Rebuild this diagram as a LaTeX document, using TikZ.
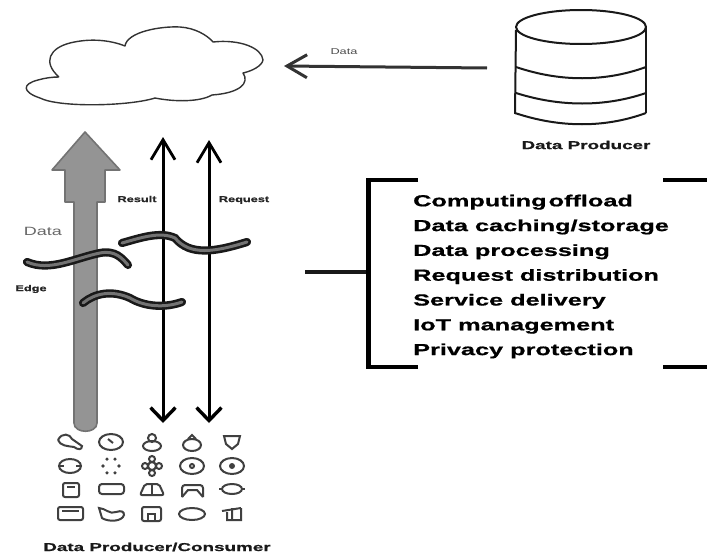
\documentclass[tikz,border=0pt]{standalone}
\usepackage{fontspec}
\setmainfont{Liberation Sans}
\newfontfamily\widea[FakeStretch=1.5,FakeBold=0.6]{Liberation Sans Bold}
\newfontfamily\wideb[FakeStretch=1.64,FakeBold=0.8]{Liberation Sans Bold}
\newfontfamily\widel[FakeStretch=1.58,FakeBold=0.8]{Liberation Sans Bold}
\newfontfamily\widec[FakeStretch=1.5]{Liberation Sans}
\usetikzlibrary{arrows.meta}
\tikzset{
  lbl/.style={font=\widea\fontsize{8.5}{10}\selectfont,text=black!85,inner sep=0pt},
  lblbig/.style={font=\wideb\fontsize{11.5}{12}\selectfont,text=black!90,inner sep=0pt},
  duplex/.style={line width=3pt,black,{Straight Barb[length=13pt,width=25pt,line width=3.4pt]}-{Straight Barb[length=20pt,width=24pt,line width=2.8pt]}},
  flow/.style={line width=3pt,black!80,-{Straight Barb[length=20pt,width=23pt,line width=3pt]}},
  wave/.style={line width=2.6pt,black!90,double=black!55,double distance=3pt,line cap=round},
  ico/.style={line width=2pt,black!75},
  cloudline/.style={line width=1.4pt,black!80,line join=round},
  dbline/.style={line width=2pt,black!90,line join=round}
}
\begin{document}
\begin{tikzpicture}[x=1pt,y=-1pt]
\useasboundingbox (0,0) rectangle (707,557);
% cloud
\draw[cloudline] (59,77) .. controls (42,62) and (50,48) .. (70,43)
 .. controls (90,38) and (110,40) .. (125,46)
 .. controls (127,32) and (160,26) .. (180,27)
 .. controls (195,28) and (207,35) .. (213,42)
 .. controls (240,39) and (262,48) .. (263,60)
 .. controls (262,66) and (252,71) .. (243,73)
 .. controls (250,83) and (240,93) .. (212,95)
 .. controls (200,102) and (175,102) .. (155,98)
 .. controls (130,106) and (60,108) .. (40,98)
 .. controls (22,92) and (22,84) .. (38,80)
 .. controls (45,78) and (52,77) .. (59,77);
% database
\draw[dbline] (581,27) ellipse [x radius=65,y radius=17];
\draw[dbline] (516,30) -- (515,114);
\draw[dbline] (646,28) -- (646,113);
\draw[dbline] (516,67) .. controls (560,82) and (605,82) .. (646,67);
\draw[dbline] (516,93) .. controls (560,107) and (605,107) .. (646,93);
\draw[dbline] (515,113) .. controls (560,128) and (605,128) .. (646,113);
\node[lblbig] (prod) at (586,145) {Data Producer};
% data arrow
\coordinate (dbport) at (487,68);
\coordinate (cloudport) at (284,66);
\draw[flow] (dbport) -- (cloudport);
\node[inner sep=0pt,font=\widec\fontsize{8.5}{10}\selectfont,text=black!70] (dlabel) at (344,52) {Data};
% big gray arrow
\draw[line width=1.6pt,black!55,fill=black!42,line join=round]
 (85,132) -- (120,170) -- (105,170) -- (105,202) -- (97,202) -- (97,423)
 .. controls (97,434) and (74,434) .. (74,423) -- (74,202) -- (65,202) -- (65,170) -- (52,170) -- cycle;
% duplex arrows
\coordinate (ra) at (163,137);\coordinate (rb) at (163,423);
\coordinate (qa) at (209,140);\coordinate (qb) at (209,423);
\draw[duplex] (rb) -- (ra);
\draw[duplex] (qb) -- (qa);
% edge waves
\draw[wave] (27,262) .. controls (50,272) and (75,258) .. (100,253) .. controls (115,250) and (122,258) .. (128,265);
\draw[wave] (122,243) .. controls (140,238) and (160,231) .. (175,238) .. controls (190,256) and (215,252) .. (247,242);
\draw[wave] (83,303) .. controls (95,293) and (112,290) .. (130,298) .. controls (145,307) and (165,308) .. (182,302);
% labels
\node[inner sep=0pt,font=\widec\fontsize{12}{13}\selectfont,text=black!60] (data) at (43,231) {Data};
\node[lbl] (edge) at (31,289) {Edge};
\node[lbl] (result) at (137,199) {Result};
\node[lbl] (request) at (244,200) {Request};
% icons
\begin{scope}[ico]
\draw (58,440) .. controls (62,432) and (70,434) .. (72,439) -- (82,446) .. controls (82,450) and (78,450) .. (74,447) .. controls (68,446) and (60,446) .. (58,440);
\draw (111,442) ellipse [x radius=12,y radius=8]; \draw (108,439) -- (113,443);
\draw (152,446) ellipse [x radius=9,y radius=5]; \draw (152,438) circle [radius=4];
\draw (192,445) ellipse [x radius=9,y radius=6]; \draw (188,439) -- (192,435) -- (196,439);
\draw (224,436) -- (240,436) -- (238,444) -- (232,449) -- (226,444) -- cycle;
\draw (70,466) ellipse [x radius=11,y radius=7];\draw (59,466) -- (64,466) (76,466) -- (81,466);
\foreach \a in {0,60,...,300}{\fill[black!75] (111,466) ++(\a:8) circle [radius=1.8];}
\draw (152,466) circle [radius=4]; \draw (145,466) circle [radius=3] (159,466) circle [radius=3] (152,459) circle [radius=3] (152,473) circle [radius=3];
\draw (192,466) ellipse [x radius=12,y radius=8]; \draw (192,466) circle [radius=2];
\draw (232,466) ellipse [x radius=12,y radius=8]; \fill[black!75] (232,466) circle [radius=3];
\draw[rounded corners=2pt] (63,483) rectangle (79,497); \draw (67,487) -- (75,487);
\draw[rounded corners=3pt] (99,484) rectangle (124,494);
\draw[rounded corners=2pt] (140,495) -- (145,484) -- (159,484) -- (164,495) -- cycle; \draw (152,484) -- (152,495);
\draw[rounded corners=3pt] (182,497) -- (182,485) -- (203,485) -- (203,497); \draw (182,497) -- (188,490) -- (197,490) -- (203,497);
\draw (232,489) ellipse [x radius=10,y radius=5]; \draw (222,489) -- (219,489) (242,489) -- (245,489);
\draw[rounded corners=2pt] (58,507) rectangle (83,520); \draw (62,511) -- (79,511);
\draw (99,508) .. controls (105,508) and (110,515) .. (116,512) .. controls (122,510) and (124,512) .. (124,515) .. controls (122,522) and (108,522) .. (102,518) -- cycle;
\draw[rounded corners=2pt] (142,507) rectangle (161,521); \draw (148,521) -- (148,514) -- (155,514) -- (155,521);
\draw (192,514) ellipse [x radius=13,y radius=6];
\draw (222,511) -- (241,508) (232,508) -- (232,521) (227,512) -- (227,520) -- (241,520) -- (241,508);
\end{scope}
\node[lblbig] (consumer) at (157,547) {Data Producer/Consumer};
% brackets
\coordinate (stem) at (305,272);
\coordinate (lb) at (368,272);
\draw[line width=3.6pt,black!90] (stem) -- (lb);
\draw[line width=3.6pt,black] (418,180) -- (368,180);
\draw[line width=3.6pt,black] (418,367) -- (368,367);
\draw[line width=5pt,black] (368,178) -- (368,369);
\draw[line width=3.6pt,black] (663,180) -- (707,180);
\draw[line width=3.6pt,black] (663,367) -- (707,367);
% list
\node[inner sep=0pt,anchor=north west,align=left,font=\widel\fontsize{16}{24.8}\selectfont,text=black] (list) at (413,194.5)
 {Computing\kern-5pt{} offload\\Data caching/storage\\Data processing\\Request distribution\\Service delivery\\IoT management\\Privacy protection};
\end{tikzpicture}
\end{document}
